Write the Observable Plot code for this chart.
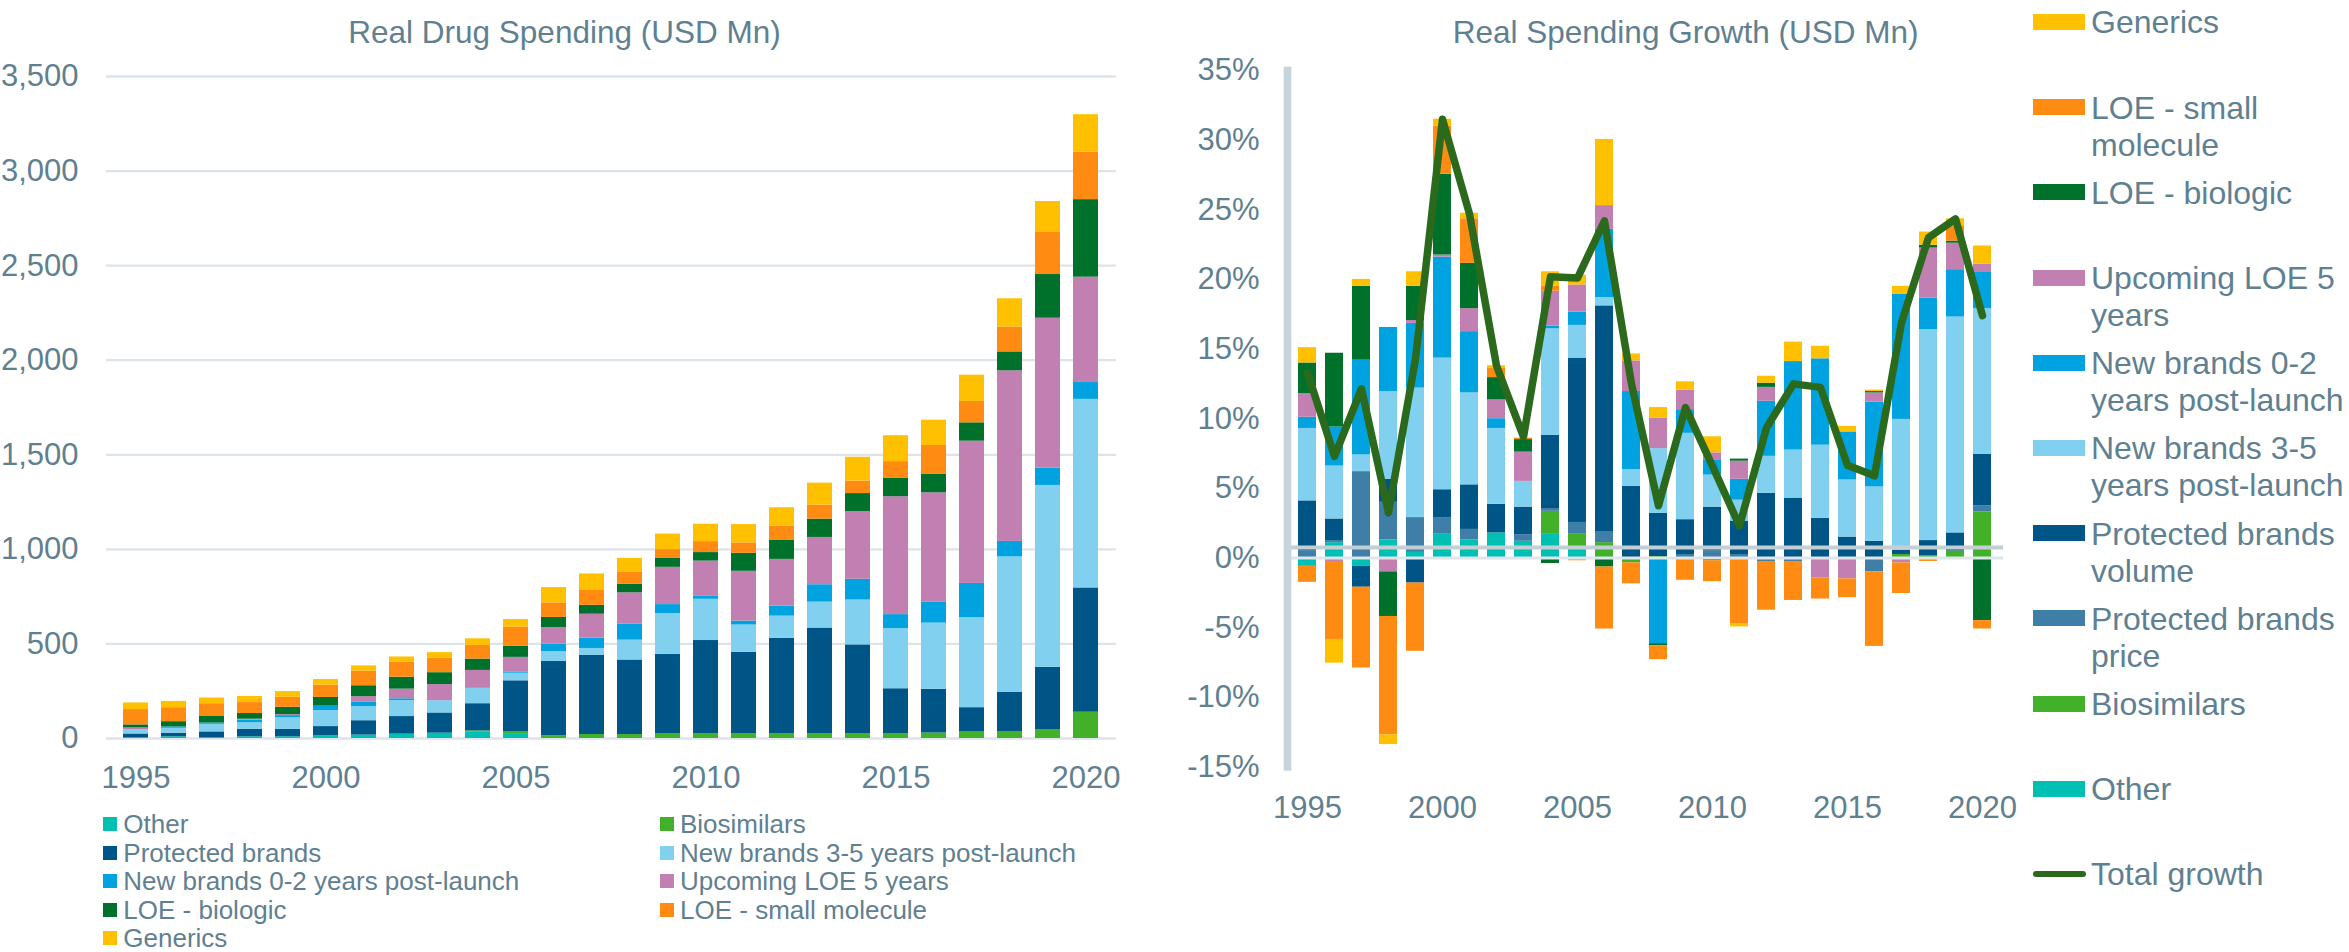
<!DOCTYPE html>
<html>
<head>
<meta charset="utf-8">
<script src="https://cdn.jsdelivr.net/npm/d3@7"></script>
<script src="https://cdn.jsdelivr.net/npm/@observablehq/plot@0.6"></script>
<style>
html,body{margin:0;padding:0;background:#fff;}
#root{position:relative;width:2349px;height:952px;overflow:hidden;font-family:"Liberation Sans",Arial,Helvetica,sans-serif;color:#5f8091;}
#root svg{overflow:visible;}
.title{position:absolute;font-size:31.5px;line-height:31.5px;white-space:nowrap;text-align:center;width:700px;}
.chart{position:absolute;top:0;}
.bl-item{position:absolute;font-size:26px;line-height:26px;height:26px;white-space:nowrap;}
.bl-sw{position:absolute;width:13.5px;height:14px;top:6px;left:0;}
.bl-tx{position:absolute;left:20px;top:0;}
.rl-item{position:absolute;left:2033px;width:316px;}
.rl-sw{position:absolute;left:0;top:9.6px;width:52px;height:16px;}
.rl-line{position:absolute;left:0;top:14.5px;width:53px;height:6.2px;border-radius:3px;}
.rl-tx{position:absolute;left:58px;top:0;width:258px;font-size:32px;line-height:37px;}
</style>
</head>
<body>
<div id="root"></div>
<script>
// ---------- categories ----------
const years = [1995,1996,1997,1998,1999,2000,2001,2002,2003,2004,2005,2006,2007,2008,2009,2010,2011,2012,2013,2014,2015,2016,2017,2018,2019,2020];
const xTickYears = [1995,2000,2005,2010,2015,2020];
const leftYTicks = [0,500,1000,1500,2000,2500,3000,3500];
const rightYTicks = [-15,-10,-5,0,5,10,15,20,25,30,35];

// ---------- left chart: Real Drug Spending (USD Mn) ----------
const spendOther       = [5,9,5,9,9,14,18,23,28,33,26,0,0,0,0,0,0,0,0,0,0,0,0,0,0,0];
const spendBiosimilars = [0,0,0,0,0,0,0,0,0,7,11,14,21,21,24,24,24,24,24,24,24,29,34,37,45,139];
const spendProtected   = [19,19,30,39,39,49,76,93,107,144,268,393,418,394,421,494,431,505,560,471,239,231,129,208,331,657];
const spendNew35       = [21,26,40,35,62,85,74,85,65,81,40,53,37,105,216,218,145,118,137,237,318,350,476,715,962,997];
const spendNew02       = [0,7,7,14,11,23,23,9,0,0,7,39,55,84,47,18,21,53,92,110,74,110,181,82,92,89];
const spendUpcoming    = [11,0,0,5,5,0,30,51,85,95,77,88,126,166,197,184,263,247,250,358,623,579,752,902,792,557];
const spendLoeBio      = [16,28,37,30,39,46,58,63,63,60,58,53,47,45,47,45,95,100,97,95,97,97,97,100,231,410];
const spendLoeSmall    = [81,74,65,58,53,65,77,79,76,72,102,77,82,63,47,58,55,76,74,66,89,153,113,131,226,252];
const spendGenerics    = [35,33,30,32,30,30,28,28,30,35,40,81,84,74,82,92,97,97,116,126,137,134,139,150,160,197];

const leftSeries = ["Other","Biosimilars","Protected brands","New brands 3-5 years post-launch","New brands 0-2 years post-launch","Upcoming LOE 5 years","LOE - biologic","LOE - small molecule","Generics"];
const leftColors = ["#00bfb3","#43b02a","#005587","#82d0ef","#00a3e0","#c27fb1","#00712a","#ff8b13","#ffc000"];
const leftValues = [spendOther,spendBiosimilars,spendProtected,spendNew35,spendNew02,spendUpcoming,spendLoeBio,spendLoeSmall,spendGenerics];

// ---------- right chart: Real Spending Growth (%) ----------
const growthOther       = [-0.6,1.1,-0.6,1.3,0.4,1.75,1.3,1.8,1.2,1.75,0.75,0,0,0,0,0,0,0,0,0,0,0,0,0,0,0];
const growthBiosimilars = [0,0,0,0,0,0,0,0,0,1.6,1.0,1.1,-0.35,0.1,0,0,0,0,0,0,0,0,0.25,0.15,0.5,3.3];
const growthPrice       = [0.5,0.15,6.2,2.7,2.5,1.15,0.75,-0.1,0.45,0.2,0.8,0.8,0,0,0.25,0.5,0.25,-0.25,-0.25,-0.1,0,-1.0,0,0,0,0.45];
const growthVolume      = [3.6,1.55,-1.5,1.65,-1.8,2.0,3.2,2.05,2.0,5.25,11.8,16.2,5.15,3.1,2.5,3.15,2.4,4.65,4.3,2.85,1.5,1.2,0.3,1.1,1.3,3.7];
const growthNew35       = [5.2,3.8,1.2,6.3,9.3,9.45,6.6,5.45,1.85,7.65,2.35,0.6,1.2,4.65,6.2,2.3,1.5,2.65,3.45,5.25,4.1,3.9,9.4,15.15,15.5,10.45];
const growthNew02       = [0.8,2.8,6.8,4.6,4.65,7.25,4.4,0.7,0,0.2,0.95,4.9,5.6,-6.15,1.7,1.1,1.5,3.95,6.35,6.2,3.45,6.1,9.0,2.25,3.4,2.65];
const growthUpcoming    = [1.7,-0.25,0,-1.0,0.2,0.15,1.65,1.35,2.1,2.5,1.95,1.7,2.2,2.2,1.4,0.5,1.3,1.0,0,-1.35,-1.5,0.65,-0.35,3.6,1.9,0.55];
const growthLoeBio      = [2.2,5.3,5.3,-3.2,2.45,5.8,3.25,1.6,0.9,-0.4,0,-0.65,0,-0.15,0,-0.2,0.15,0.3,0,0,0,0.1,0,0.2,0.15,-4.5];
const growthLoeSmall    = [-1.15,-5.6,-5.8,-8.5,-4.9,3.45,3.2,0.7,0.1,0.35,-0.2,-4.45,-1.5,-1.0,-1.6,-1.5,-4.75,-3.5,-2.8,-1.5,-1.35,-5.35,-2.2,-0.25,1.1,-0.6];
const growthGenerics    = [1.1,-1.7,0.5,-0.7,1.05,0.5,0.4,0.15,0,1.05,0.7,4.75,0.5,0.75,0.6,1.15,-0.2,0.5,1.4,0.9,0.4,0.1,0.55,0.95,0.5,1.3];
const totalGrowth       = [13.3,7.3,12.15,3.25,14.3,31.5,24.7,13.8,8.7,20.2,20.1,24.2,12.5,3.75,10.8,6.6,2.3,9.35,12.5,12.25,6.65,5.9,16.9,23.0,24.35,17.4];

const rightSeries = ["Other","Biosimilars","Protected brands price","Protected brands volume","New brands 3-5 years post-launch","New brands 0-2 years post-launch","Upcoming LOE 5 years","LOE - biologic","LOE - small molecule","Generics"];
const rightColors = ["#00bfb3","#43b02a","#3f7ea6","#005587","#82d0ef","#00a3e0","#c27fb1","#00712a","#ff8b13","#ffc000"];
const rightValues = [growthOther,growthBiosimilars,growthPrice,growthVolume,growthNew35,growthNew02,growthUpcoming,growthLoeBio,growthLoeSmall,growthGenerics];

const rightLegendOrder = ["Generics","LOE - small molecule","LOE - biologic","Upcoming LOE 5 years","New brands 0-2 years post-launch","New brands 3-5 years post-launch","Protected brands volume","Protected brands price","Biosimilars","Other"];
const totalLabel = "Total growth";
const lineColor = "#2b6a1d";
const textColor = "#5f8091";
const fontFamily = "'Liberation Sans', Arial, Helvetica, sans-serif";

// ---------- tidy tables ----------
const leftData = leftSeries.flatMap((s, i) => years.map((y, j) => ({year: y, series: s, value: leftValues[i][j]})));
const rightData = rightSeries.flatMap((s, i) => years.map((y, j) => ({year: y, series: s, value: rightValues[i][j]})));
const totalData = years.map((y, j) => ({year: y, total: totalGrowth[j]}));

const root = document.getElementById("root");

// ---------- left plot ----------
const left = Plot.plot({
  width: 1150, height: 800,
  marginLeft: 106, marginRight: 34, marginTop: 76, marginBottom: 62,
  style: {fontFamily, fontSize: "31px", color: textColor, background: "transparent", overflow: "visible"},
  x: {type: "band", domain: years, paddingInner: 0.338, paddingOuter: 0.19, label: null},
  y: {domain: [0, 3500], label: null},
  color: {domain: leftSeries, range: leftColors},
  marks: [
    Plot.gridY({ticks: leftYTicks, stroke: "#dde4e9", strokeOpacity: 1, strokeWidth: 2.3}),
    Plot.barY(leftData, {x: "year", y: "value", fill: "series"}),
    Plot.axisY({ticks: leftYTicks, tickSize: 0, tickPadding: 28, tickFormat: d3.format(","), label: null}),
    Plot.axisX({ticks: xTickYears, tickSize: 0, tickPadding: 27, tickFormat: d => String(d), label: null})
  ]
});
const lw = document.createElement("div");
lw.className = "chart"; lw.style.left = "0px";
lw.appendChild(left); root.appendChild(lw);

// ---------- right plot ----------
const right = Plot.plot({
  width: 880, height: 830,
  marginLeft: 137, marginRight: 27, marginTop: 70, marginBottom: 63.6,
  style: {fontFamily, fontSize: "31px", color: textColor, background: "transparent", overflow: "visible"},
  x: {type: "band", domain: years, paddingInner: 0.328, paddingOuter: 0.173, label: null},
  y: {domain: [-15, 35], label: null},
  color: {domain: rightSeries, range: rightColors},
  marks: [
    Plot.barY(rightData, {x: "year", y: "value", fill: "series"}),
    Plot.ruleY([0.75], {stroke: "#c3ced5", strokeWidth: 4}),
    Plot.ruleY([0], {stroke: "#dfe6ea", strokeWidth: 3}),
    Plot.frame({anchor: "left", stroke: "#c8d4db", strokeWidth: 7.7}),
    Plot.lineY(totalData, {x: "year", y: "total", stroke: lineColor, strokeWidth: 7.5, strokeLinejoin: "round", strokeLinecap: "round"}),
    Plot.axisY({ticks: rightYTicks, tickSize: 0, tickPadding: 28, tickFormat: d => d + "%", label: null}),
    Plot.axisX({ticks: xTickYears, tickSize: 0, tickPadding: 29.5, tickFormat: d => String(d), label: null})
  ]
});
const rw = document.createElement("div");
rw.className = "chart"; rw.style.left = "1150px";
rw.appendChild(right); root.appendChild(rw);

// ---------- titles ----------
function addTitle(text, cx, top) {
  const t = document.createElement("div");
  t.className = "title"; t.textContent = text;
  t.style.left = (cx - 350) + "px"; t.style.top = top + "px";
  root.appendChild(t);
}
addTitle("Real Drug Spending (USD Mn)", 564.5, 17.3);
addTitle("Real Spending Growth (USD Mn)", 1685.6, 17);

// ---------- bottom-left legend (2 columns) ----------
leftSeries.forEach((s, i) => {
  const col = i % 2, row = Math.floor(i / 2);
  const it = document.createElement("div");
  it.className = "bl-item";
  it.style.left = (col === 0 ? 103.3 : 660) + "px";
  it.style.top = (811 + row * 28.6) + "px";
  const sw = document.createElement("div");
  sw.className = "bl-sw"; sw.style.background = leftColors[i];
  const tx = document.createElement("div");
  tx.className = "bl-tx"; tx.textContent = s;
  it.appendChild(sw); it.appendChild(tx); root.appendChild(it);
});

// ---------- right legend ----------
rightLegendOrder.forEach((s, i) => {
  const it = document.createElement("div");
  it.className = "rl-item";
  it.style.top = (4.4 + i * 85.2) + "px";
  const sw = document.createElement("div");
  sw.className = "rl-sw"; sw.style.background = rightColors[rightSeries.indexOf(s)];
  const tx = document.createElement("div");
  tx.className = "rl-tx"; tx.textContent = s;
  it.appendChild(sw); it.appendChild(tx); root.appendChild(it);
});
{
  const it = document.createElement("div");
  it.className = "rl-item";
  it.style.top = (4.4 + rightLegendOrder.length * 85.2) + "px";
  const ln = document.createElement("div");
  ln.className = "rl-line"; ln.style.background = lineColor;
  const tx = document.createElement("div");
  tx.className = "rl-tx"; tx.textContent = totalLabel;
  it.appendChild(ln); it.appendChild(tx); root.appendChild(it);
}
</script>
</body>
</html>
